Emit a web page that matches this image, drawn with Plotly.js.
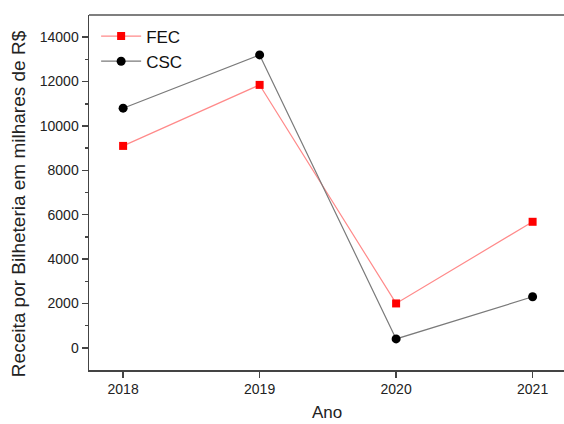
<!DOCTYPE html>
<html><head><meta charset="utf-8">
<script src="https://cdn.plot.ly/plotly-3.0.1.min.js"></script>
<style>html,body{margin:0;padding:0;background:#fff}#c{width:564px;height:424px}</style>
</head><body><div id="c"></div>
<script>
const years = [2018, 2019, 2020, 2021];
const fec = [9100, 11850, 2000, 5680];
const csc = [10800, 13200, 400, 2300];
const yTicks = [0, 2000, 4000, 6000, 8000, 10000, 12000, 14000];

const traces = [
  {x: years, y: fec, name: 'FEC', type: 'scatter', mode: 'lines+markers',
   line: {color: '#ff8a8a', width: 1.2}, marker: {symbol: 'square', size: 8, color: '#ff0000'}},
  {x: years, y: csc, name: 'CSC', type: 'scatter', mode: 'lines+markers',
   line: {color: '#7a7a7a', width: 1.2}, marker: {symbol: 'circle', size: 9, color: '#000000'}}
];
const axFont = {family: 'Liberation Sans, Arial, sans-serif', size: 14, color: '#222'};
const layout = {
  width: 564, height: 424,
  margin: {l: 89, r: 0, t: 15, b: 54},
  paper_bgcolor: '#fff', plot_bgcolor: '#fff',
  showlegend: true,
  legend: {x: 0.015, y: 0.99, xanchor: 'left', yanchor: 'top', bgcolor: 'rgba(0,0,0,0)',
    font: {family: 'Liberation Sans, Arial, sans-serif', size: 17, color: '#111'}, tracegroupgap: 0, itemwidth: 40},
  xaxis: {range: [2017.75, 2021.23], tickvals: years, ticktext: years.map(String),
    showgrid: false, zeroline: false, showline: true, linecolor: '#444', linewidth: 1.5,
    ticks: 'outside', ticklen: 6, tickwidth: 1.5, tickcolor: '#444', tickfont: axFont,
    title: {text: ''}},
  yaxis: {range: [-1000, 15000], tickvals: yTicks, ticktext: yTicks.map(String),
    showgrid: false, zeroline: false, showline: true, linecolor: '#444', linewidth: 1.5,
    ticks: 'outside', ticklen: 6, tickwidth: 1.5, tickcolor: '#444', tickfont: axFont,
    minor: {tickvals: [1000, 3000, 5000, 7000, 9000, 11000, 13000], ticks: 'outside', ticklen: 3, tickwidth: 1.5, tickcolor: '#444'},
    title: {text: ''}},
  annotations: [
    {text: 'Receita por Bilheteria em milhares de R$', xref: 'paper', yref: 'paper',
     x: -0.1495, y: 0.47, xanchor: 'center', yanchor: 'middle', textangle: -90, showarrow: false,
     font: {family: 'Liberation Sans, Arial, sans-serif', size: 19, color: '#222'}},
    {text: 'Ano', xref: 'paper', yref: 'paper', x: 0.501, y: -0.12, xanchor: 'center', yanchor: 'middle',
     showarrow: false, font: {family: 'Liberation Sans, Arial, sans-serif', size: 17, color: '#222'}}
  ],
  shapes: [{type: 'line', xref: 'paper', yref: 'paper', x0: 0, x1: 1, y0: 1, y1: 1, line: {color: '#555', width: 1.5}}]
};
Plotly.newPlot('c', traces, layout, {displayModeBar: false, staticPlot: true});
</script></body></html>
